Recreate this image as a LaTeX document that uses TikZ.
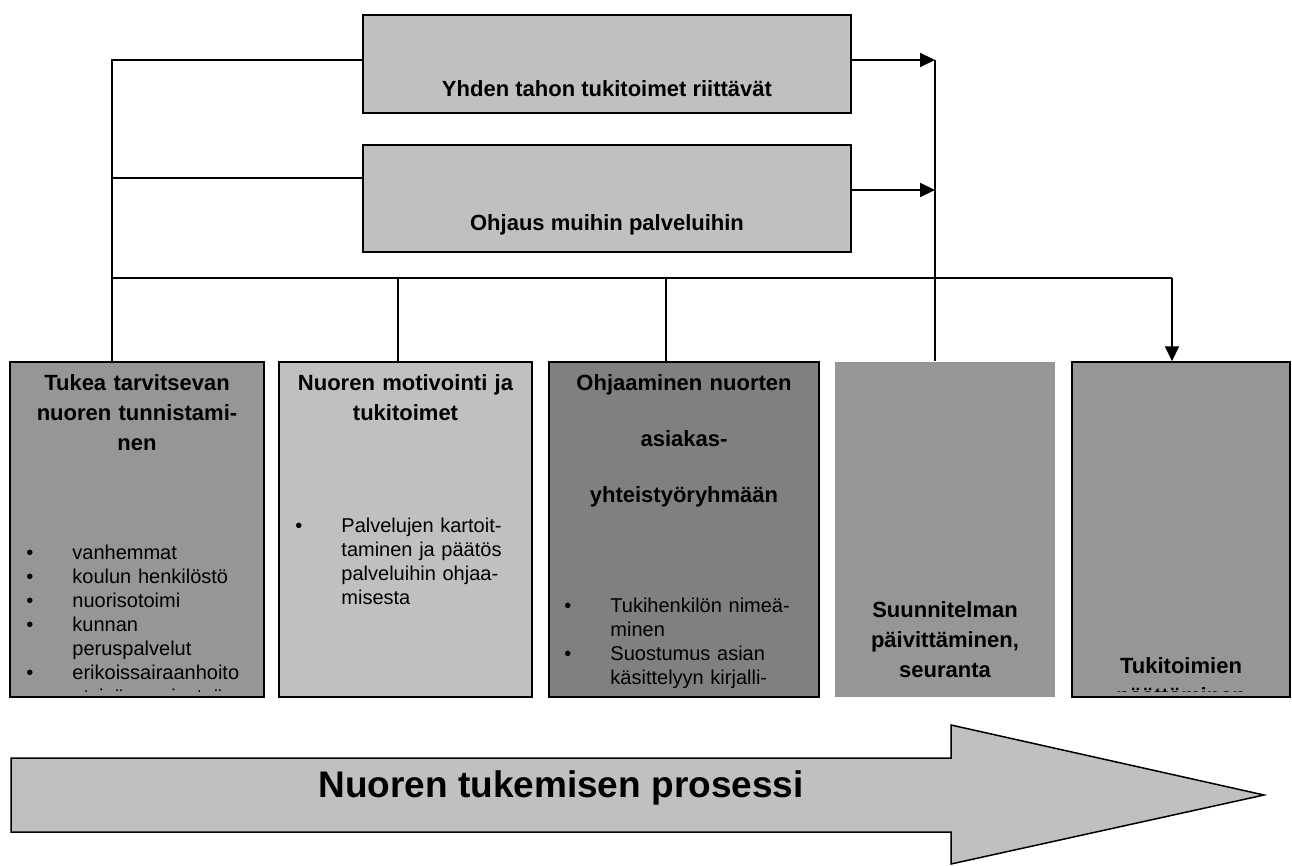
\documentclass[tikz,border=0pt]{standalone}
\usepackage{fontspec}
\setmainfont{Liberation Sans}
\usetikzlibrary{arrows.meta,positioning}
\definecolor{vaalea}{gray}{0.753}
\definecolor{keski}{gray}{0.588}
\definecolor{tumma}{gray}{0.502}
\newcommand\kohta[1]{\noindent\hangindent=46pt\hangafter=1\makebox[46pt][l]{\textbullet}#1\par}

\begin{document}
\begin{tikzpicture}[x=1pt,y=-1pt,>={Triangle[length=15pt,width=14pt]}]
 \tikzset{laatikko/.style = {rectangle,draw=black,line width=1.5pt,inner sep=0pt,
                             minimum height=335pt},
          otsikko/.style  = {anchor=base,align=center,inner sep=0pt,
                             font=\bfseries\fontsize{22}{30}\selectfont},
          luettelo/.style = {anchor=base west,inner sep=0pt,text width=240pt,
                             font=\fontsize{20}{24}\selectfont},
          yhteys/.style   = {line width=1.5pt},
          nuoli/.style    = {->,line width=2pt}}
 \useasboundingbox (0,0) rectangle (1292,866);

  % ylimmat laatikot
  \node[laatikko,fill=vaalea,minimum width=488pt,minimum height=98pt] (yksi) at (607,64) {};
  \node[laatikko,fill=vaalea,minimum width=488pt,minimum height=107pt] (ohjaus) at (607,198.5) {};
  \node[otsikko] (yksiT) at ([yshift=17pt]yksi.south) {Yhden tahon tukitoimet riittävät};
  \node[otsikko] (ohjausT) at ([yshift=22pt]ohjaus.south) {Ohjaus muihin palveluihin};

  % prosessin vaiheet
  \node[laatikko,fill=keski,minimum width=254pt] (tunnistus) at (137,529.5) {};
  \node[laatikko,fill=vaalea,minimum width=253pt] (motivointi) at (405.5,529.5) {};
  \node[laatikko,fill=tumma,minimum width=270pt] (ohjaaminen) at (684,529.5) {};
  \node[laatikko,fill=keski,draw=none,minimum width=220pt] (seuranta) at (945,529.5) {};
  \node[laatikko,fill=keski,minimum width=218pt] (paattaminen) at (1181,529.5) {};

  \begin{scope}
   \clip ([yshift=6pt]tunnistus.south west) rectangle (tunnistus.north east);
   \node[otsikko,text width=250pt] (tunnistusT) at ([yshift=-29pt]tunnistus.north)
        {Tukea tarvitsevan\\nuoren tunnistami-\\nen};
   \node[luettelo] (tunnistusL) at ([xshift=17pt,yshift=-198pt]tunnistus.north west)
        {\kohta{vanhemmat}\kohta{koulun henkilöstö}\kohta{nuorisotoimi}%
         \kohta{kunnan\newline peruspalvelut}\kohta{erikoissairaanhoito}\kohta{etsivä nuorisotyö}};
  \end{scope}

  \begin{scope}
   \clip ([yshift=6pt]motivointi.south west) rectangle (motivointi.north east);
   \node[otsikko,text width=250pt] (motivointiT) at ([yshift=-29pt]motivointi.north)
        {Nuoren motivointi ja\\tukitoimet};
   \node[luettelo] (motivointiL) at ([xshift=17pt,yshift=-171pt]motivointi.north west)
        {\kohta{Palvelujen kartoit-\newline taminen ja päätös\newline palveluihin ohjaa-\newline misesta}};
  \end{scope}

  \begin{scope}
   \clip ([yshift=6pt]ohjaaminen.south west) rectangle (ohjaaminen.north east);
   \node[otsikko,text width=266pt,font=\bfseries\fontsize{22}{56}\selectfont] (ohjaaminenT)
        at ([yshift=-29pt]ohjaaminen.north) {Ohjaaminen nuorten\\asiakas-\\yhteistyöryhmään};
   \node[luettelo] (ohjaaminenL) at ([xshift=16pt,yshift=-251pt]ohjaaminen.north west)
        {\kohta{Tukihenkilön nimeä-\newline minen}\kohta{Suostumus asian\newline käsittelyyn kirjalli-}};
  \end{scope}

  \node[otsikko,text width=216pt] (seurantaT) at ([yshift=-256pt]seuranta.north)
       {Suunnitelman\\päivittäminen,\\seuranta};

  \begin{scope}
   \clip ([yshift=6pt]paattaminen.south west) rectangle (paattaminen.north east);
   \node[otsikko,text width=214pt] (paattaminenT) at ([yshift=-312pt]paattaminen.north)
        {Tukitoimien\\päättäminen};
  \end{scope}

  % yhteydet
  \coordinate (v1) at (112,60);
  \coordinate (v2) at (112,178);
  \coordinate (v3) at (112,278);
  \coordinate (p2) at (398,278);
  \coordinate (p3) at (666,278);
  \coordinate (o1) at (935,60);
  \coordinate (o2) at (935,190);
  \coordinate (o3) at (1172,278);

  \draw[yhteys] (v1 -| yksi.west) -- (v1) -- (v1 |- tunnistus.north);
  \draw[yhteys] (v2) -- (v2 -| ohjaus.west);
  \draw[yhteys] (v3) -- (o3);
  \draw[yhteys] (p2) -- (p2 |- motivointi.north);
  \draw[yhteys] (p3) -- (p3 |- ohjaaminen.north);
  \draw[yhteys] (o1) -- (o1 |- seuranta.north);
  \draw[nuoli] (o1 -| yksi.east) -- (o1);
  \draw[nuoli] (o2 -| ohjaus.east) -- (o2);
  \draw[nuoli] (o3) -- (o3 |- paattaminen.north);

  % iso nuoli
  \draw[fill=vaalea,line width=1.5pt] (11,758) -- (951,758) -- (951,725) -- (1264,795)
       -- (951,864) -- (951,832) -- (11,832) -- cycle;
  \node[anchor=base,inner sep=0pt,font=\bfseries\fontsize{37}{44}\selectfont]
       (prosessi) at (561,797) {Nuoren tukemisen prosessi};
\end{tikzpicture}
\end{document}
